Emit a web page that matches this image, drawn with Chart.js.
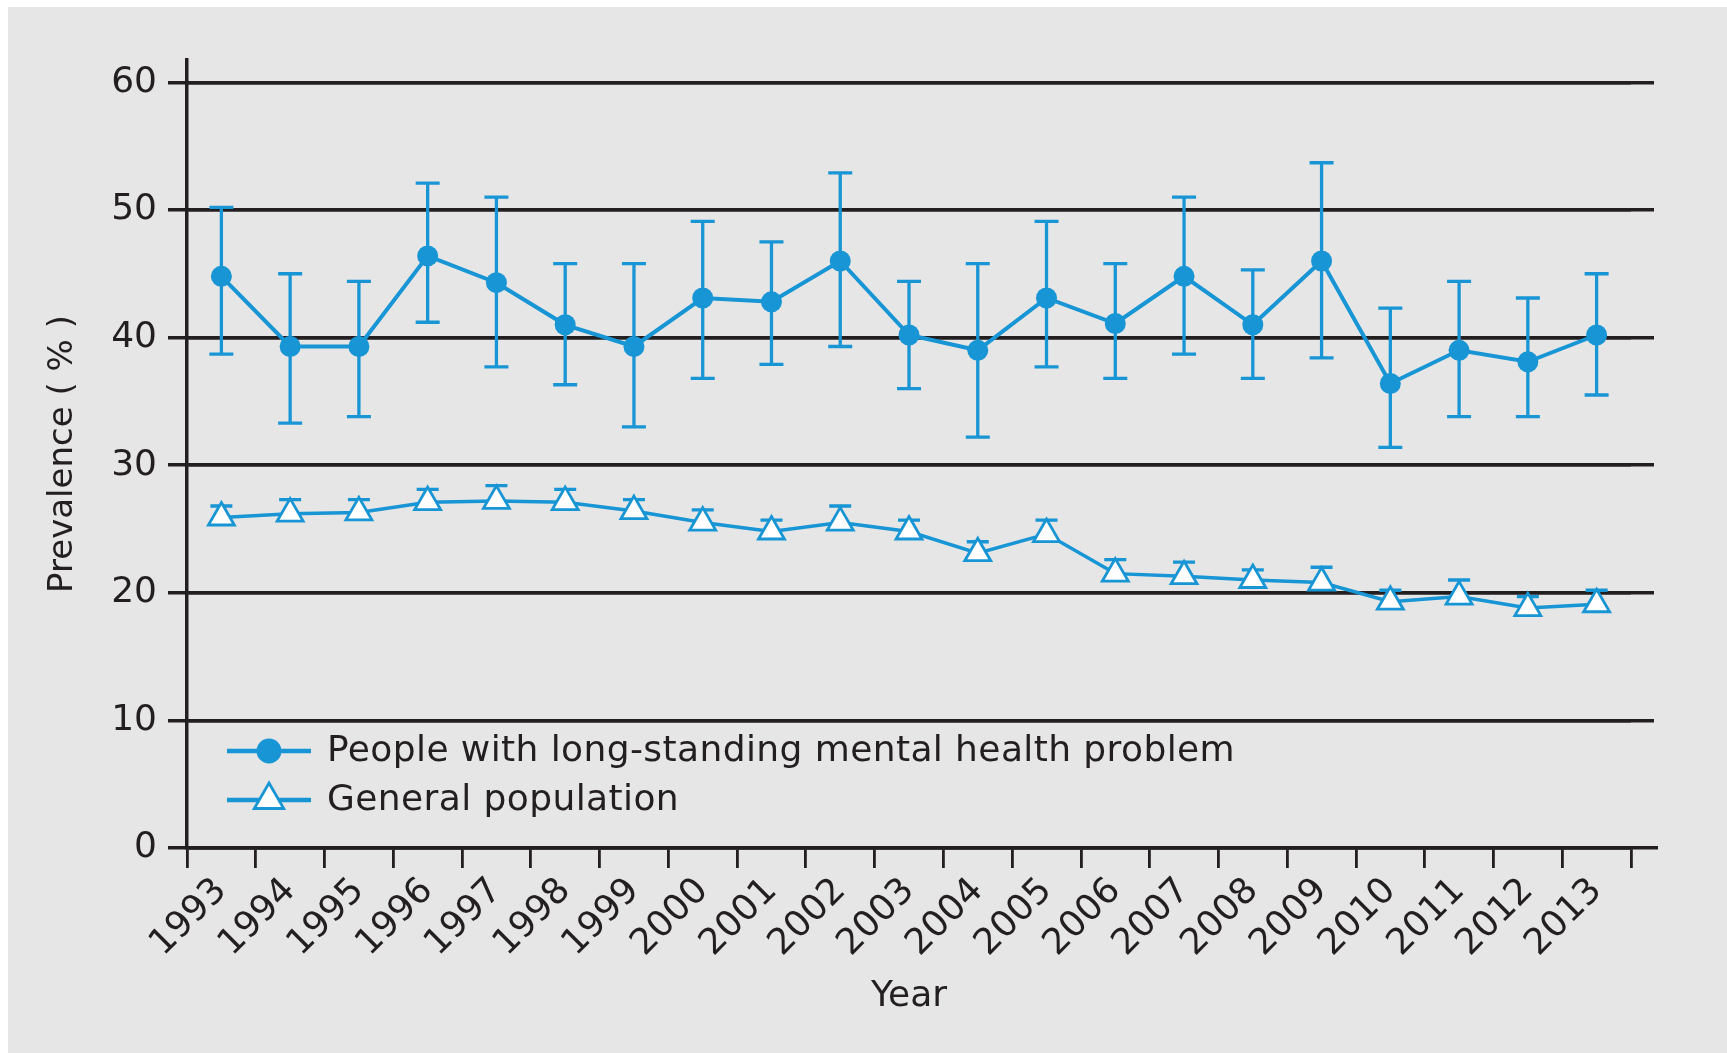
<!DOCTYPE html>
<html><head><meta charset="utf-8">
<script src="https://cdn.jsdelivr.net/npm/chart.js@4.4.0/dist/chart.umd.min.js"></script>
<style>html,body{margin:0;padding:0;background:#fff;overflow:hidden}
canvas{position:absolute;left:0;top:0}</style></head>
<body><canvas id="c" width="1727" height="1053"></canvas>
<script>
const years = ['1993','1994','1995','1996','1997','1998','1999','2000','2001','2002','2003','2004','2005','2006','2007','2008','2009','2010','2011','2012','2013'];
const mentalHealth = [44.8, 39.3, 39.3, 46.4, 44.3, 41.0, 39.3, 43.1, 42.8, 46.0, 40.2, 39.0, 43.1, 41.1, 44.8, 41.0, 46.0, 36.4, 39.0, 38.1, 40.2];
const mentalUpper  = [50.2, 45.0, 44.4, 52.1, 51.0, 45.8, 45.8, 49.1, 47.5, 52.9, 44.4, 45.8, 49.1, 45.8, 51.0, 45.3, 53.7, 42.3, 44.4, 43.1, 45.0];
const mentalLower  = [38.7, 33.3, 33.8, 41.2, 37.7, 36.3, 33.0, 36.8, 37.9, 39.3, 36.0, 32.2, 37.7, 36.8, 38.7, 36.8, 38.4, 31.4, 33.8, 33.8, 35.5];
const generalPop   = [25.9, 26.2, 26.3, 27.1, 27.2, 27.1, 26.4, 25.5, 24.8, 25.5, 24.8, 23.1, 24.6, 21.5, 21.3, 21.0, 20.8, 19.3, 19.7, 18.8, 19.1];
const generalUpper = [26.8, 27.3, 27.3, 28.1, 28.4, 28.1, 27.3, 26.5, 25.7, 26.8, 25.7, 24.0, 25.7, 22.6, 22.4, 21.8, 22.0, 20.2, 21.0, 19.7, 20.2];
const generalLower = [25.4, 25.7, 25.8, 26.6, 26.7, 26.6, 25.9, 25.0, 24.3, 25.0, 24.3, 22.6, 24.1, 21.0, 20.8, 20.5, 20.3, 18.8, 19.2, 18.3, 18.6];
const yTicks = [0, 10, 20, 30, 40, 50, 60];
const seriesLabels = ['People with long-standing mental health problem', 'General population'];
const xTitle = 'Year';
const yTitle = 'Prevalence ( % )';

const BLUE = '#1795d4';
const INK = '#231f20';
const FONT = "'DejaVu Sans', sans-serif";
const GRID_W = 3.5;

function alignPx(chart, p, w) {
  if (Chart.helpers && Chart.helpers._alignPixel) return Chart.helpers._alignPixel(chart, p, w);
  const h = w / 2;
  return Math.round(p - h) + h;
}

const bgPlugin = {
  id: 'bg',
  beforeDraw(chart) {
    const ctx = chart.ctx;
    ctx.save();
    ctx.fillStyle = '#ffffff';
    ctx.fillRect(0, 0, chart.width, chart.height);
    ctx.fillStyle = '#e6e6e6';
    ctx.fillRect(8, 7, chart.width - 8, chart.height - 7);
    ctx.restore();
  }
};

const gridExt = {
  id: 'gridExt',
  beforeDatasetsDraw(chart) {
    const ctx = chart.ctx, ys = chart.scales.y, ca = chart.chartArea;
    ctx.save();
    ctx.strokeStyle = INK;
    ctx.lineWidth = GRID_W;
    ys.ticks.forEach(t => {
      const py = alignPx(chart, ys.getPixelForValue(t.value), GRID_W);
      ctx.beginPath();
      ctx.moveTo(ca.left, py);
      ctx.lineTo(ca.right + (t.value === 0 ? 27 : 23), py);
      ctx.stroke();
    });
    ctx.restore();
  }
};

const errorBars = {
  id: 'errorBars',
  beforeDatasetsDraw(chart) {
    const ctx = chart.ctx, ys = chart.scales.y;
    ctx.save();
    chart.data.datasets.forEach((ds, di) => {
      const meta = chart.getDatasetMeta(di);
      ctx.strokeStyle = BLUE;
      ctx.lineWidth = 3.3;
      meta.data.forEach((pt, i) => {
        const x = pt.x;
        const yu = ys.getPixelForValue(ds.errUpper[i]);
        const yl = ys.getPixelForValue(ds.errLower[i]);
        const hw = ds.capHalf;
        ctx.beginPath();
        ctx.moveTo(x, yu); ctx.lineTo(x, yl);
        ctx.moveTo(x - hw, yu); ctx.lineTo(x + hw, yu);
        ctx.moveTo(x - hw, yl); ctx.lineTo(x + hw, yl);
        ctx.stroke();
      });
    });
    ctx.restore();
  }
};

const legendPlugin = {
  id: 'legendInside',
  afterDatasetsDraw(chart) {
    const ctx = chart.ctx, ca = chart.chartArea;
    ctx.save();
    const rows = [ca.bottom - 97, ca.bottom - 48];
    chart.data.datasets.forEach((ds, i) => {
      const y = rows[i];
      const x0 = ca.left + 40, x1 = ca.left + 124, xm = (x0 + x1) / 2;
      ctx.strokeStyle = BLUE;
      ctx.lineWidth = 4.5;
      ctx.beginPath(); ctx.moveTo(x0, y); ctx.lineTo(x1, y); ctx.stroke();
      ctx.fillStyle = ds.pointBackgroundColor;
      ctx.strokeStyle = BLUE;
      ctx.lineWidth = ds.pointBorderWidth;
      Chart.helpers.drawPoint(ctx, {pointStyle: ds.pointStyle, radius: ds.pointRadius + 2, rotation: 0, borderWidth: ds.pointBorderWidth}, xm, y);
      ctx.fillStyle = INK;
      ctx.font = "36px " + FONT;
      if ('letterSpacing' in ctx) ctx.letterSpacing = '0.4px';
      ctx.textAlign = 'left';
      ctx.textBaseline = 'middle';
      ctx.fillText(ds.label, ca.left + 140, y + 1);
    });
    ctx.restore();
  }
};

new Chart(document.getElementById('c'), {
  type: 'line',
  data: {
    labels: years,
    datasets: [
      {
        label: seriesLabels[0], data: mentalHealth, errUpper: mentalUpper, errLower: mentalLower, capHalf: 12,
        borderColor: BLUE, borderWidth: 4, tension: 0,
        pointStyle: 'circle', pointRadius: 10.5, pointBackgroundColor: BLUE, pointBorderColor: BLUE, pointBorderWidth: 0
      },
      {
        label: seriesLabels[1], data: generalPop, errUpper: generalUpper, errLower: generalLower, capHalf: 11,
        borderColor: BLUE, borderWidth: 3.5, tension: 0,
        pointStyle: 'triangle', pointRadius: 15, pointBackgroundColor: '#ffffff', pointBorderColor: BLUE, pointBorderWidth: 2.8
      }
    ]
  },
  options: {
    responsive: false, animation: false, devicePixelRatio: 1,
    layout: {padding: {left: 0, top: 60, right: 96, bottom: 35}},
    plugins: {legend: {display: false}, tooltip: {enabled: false}},
    scales: {
      x: {
        type: 'category', offset: true,
        grid: {offset: true, drawOnChartArea: false, drawTicks: true, tickLength: 20, color: INK, lineWidth: 2.8},
        border: {display: true, color: INK, width: GRID_W},
        ticks: {color: INK, font: {family: FONT, size: 36}, minRotation: 45, maxRotation: 45, padding: 2, autoSkip: false},
        title: {display: true, text: xTitle, color: INK, font: {family: FONT, size: 36}, padding: {top: 0, bottom: 0}},
        afterFit(s) { s.height = 170; }
      },
      y: {
        min: 0, max: 61.75,
        afterBuildTicks(s) { s.ticks = yTicks.map(v => ({value: v})); },
        ticks: {color: INK, font: {family: FONT, size: 36}, padding: 11},
        grid: {color: INK, lineWidth: GRID_W, tickLength: 19, drawTicks: true},
        border: {display: true, color: INK, width: GRID_W},
        title: {display: true, text: yTitle, color: INK, font: {family: FONT, size: 34}, padding: {top: 43, bottom: 0}},
        afterFit(s) { s.width = 187; }
      }
    }
  },
  plugins: [bgPlugin, gridExt, errorBars, legendPlugin]
});
</script></body></html>
